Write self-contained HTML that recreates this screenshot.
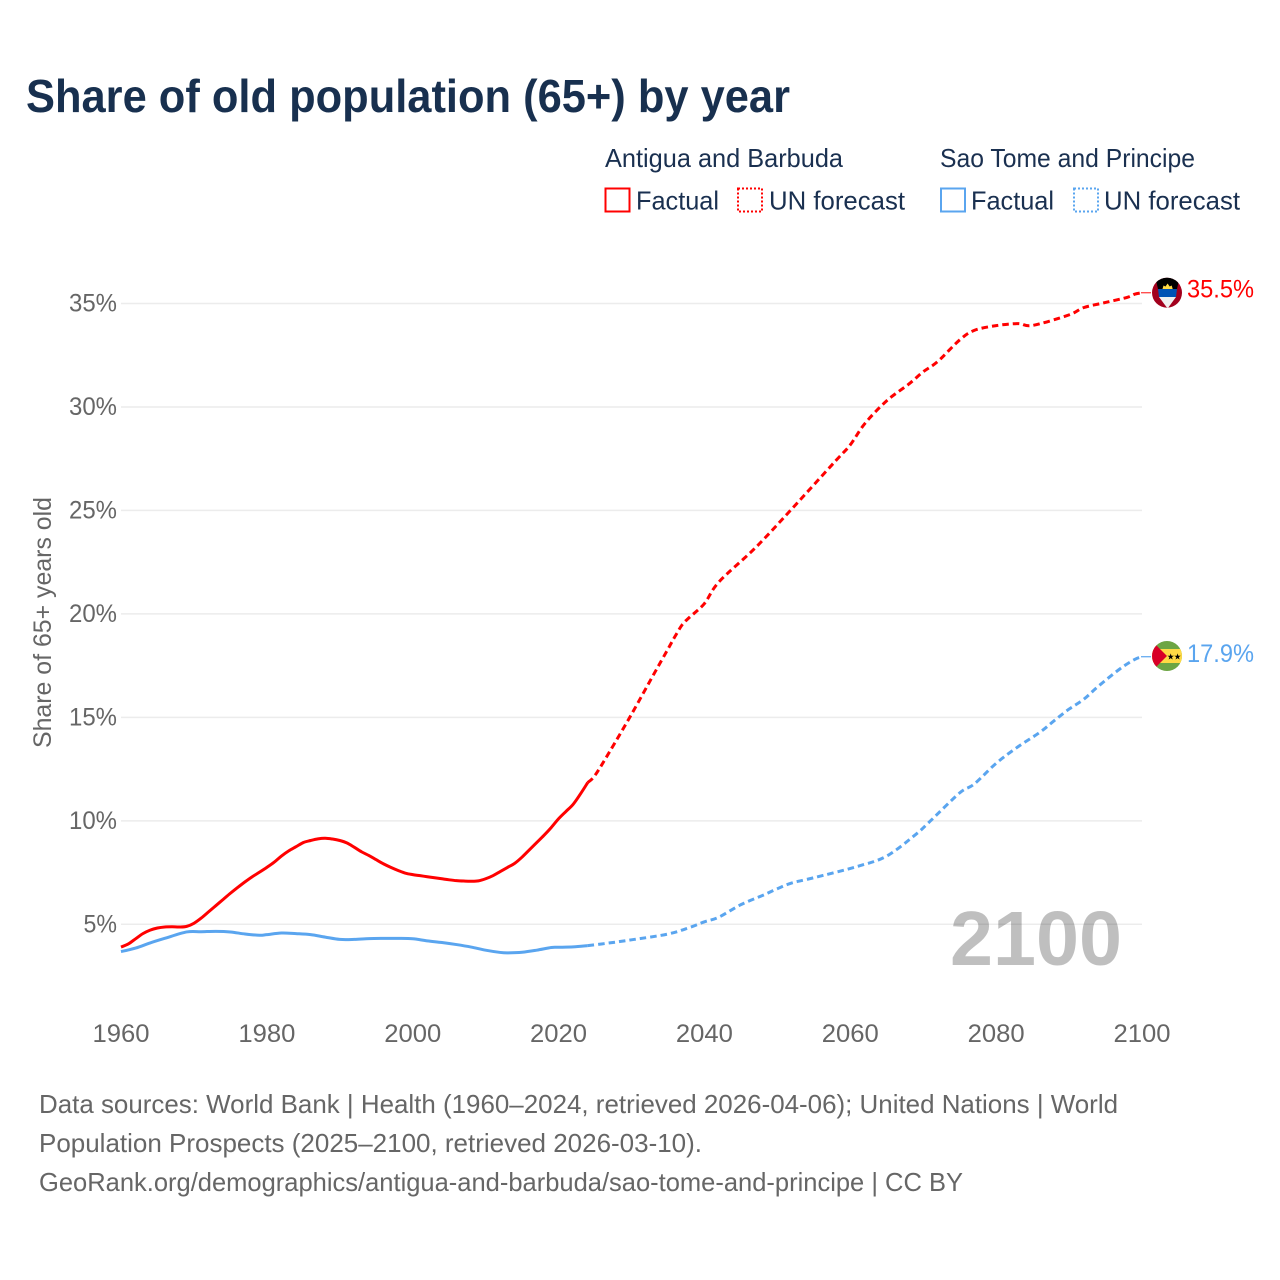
<!DOCTYPE html>
<html lang="en">
<head>
<meta charset="utf-8">
<title>Share of old population (65+) by year</title>
<style>
  html, body { margin: 0; padding: 0; background: #fff; }
  svg { display: block; font-family: "Liberation Sans", sans-serif; }
</style>
</head>
<body>
<svg id="chart" xmlns="http://www.w3.org/2000/svg" width="1280" height="1280" viewBox="0 0 1280 1280">
  <defs>
    <clipPath id="flag-clip-a"><circle cx="1167" cy="292.7" r="15"/></clipPath>
    <clipPath id="flag-clip-s"><circle cx="1167" cy="656" r="15"/></clipPath>
  </defs>
  <rect x="0" y="0" width="1280" height="1280" fill="#ffffff"/>

  <text x="26" y="112" font-size="46" font-weight="700" fill="#18304f" textLength="764" lengthAdjust="spacingAndGlyphs">Share of old population (65+) by year</text>

  <g font-size="26" fill="#1a3050">
    <text x="605" y="167" textLength="238" lengthAdjust="spacingAndGlyphs">Antigua and Barbuda</text>
    <rect x="605.5" y="188.5" width="24" height="23" fill="none" stroke="#ff0000" stroke-width="2"/>
    <text x="636" y="209.5" textLength="83" lengthAdjust="spacingAndGlyphs">Factual</text>
    <rect x="738" y="188.5" width="24" height="23" fill="none" stroke="#ff0000" stroke-width="2" stroke-dasharray="2 2"/>
    <text x="769" y="209.5" textLength="136" lengthAdjust="spacingAndGlyphs">UN forecast</text>

    <text x="940" y="167" textLength="255" lengthAdjust="spacingAndGlyphs">Sao Tome and Principe</text>
    <rect x="941" y="188.5" width="24" height="23" fill="none" stroke="#5aa5ef" stroke-width="2"/>
    <text x="971" y="209.5" textLength="83" lengthAdjust="spacingAndGlyphs">Factual</text>
    <rect x="1074" y="188.5" width="24" height="23" fill="none" stroke="#5aa5ef" stroke-width="2" stroke-dasharray="2 2"/>
    <text x="1104" y="209.5" textLength="136" lengthAdjust="spacingAndGlyphs">UN forecast</text>
  </g>

  <g id="grid"></g>
  <g id="y-ticks"></g>
  <g id="x-ticks"></g>

  <text transform="translate(51 748) rotate(-90)" x="0" y="0" font-size="25" fill="#666666" textLength="251" lengthAdjust="spacingAndGlyphs">Share of 65+ years old</text>

  <text x="950" y="965" font-size="77" font-weight="700" fill="#000000" fill-opacity="0.25" textLength="172" lengthAdjust="spacingAndGlyphs">2100</text>

  <g id="series"></g>

  <g id="flag-antigua" clip-path="url(#flag-clip-a)">
    <rect x="1150" y="276" width="34" height="34" fill="#a2001d"/>
    <polygon points="1155,276 1180,276 1177,289 1158,289" fill="#000000"/>
    <polygon points="1158,289 1177,289 1176,297 1159,297" fill="#0052b4"/>
    <polygon points="1159,297 1176,297 1167.6,308.5" fill="#f0f0f0"/>
    <polygon points="1162.5,289 1163.5,285.5 1165.5,286.5 1167.6,283.5 1169.7,286.5 1171.7,285.5 1172.7,289" fill="#ffda44"/>
  </g>
  <g id="flag-sao-tome" clip-path="url(#flag-clip-s)">
    <rect x="1150" y="640" width="34" height="32" fill="#6da544"/>
    <rect x="1150" y="649" width="34" height="14" fill="#ffda44"/>
    <polygon points="1150,639 1167,656 1150,673" fill="#d80027"/>
    <text x="1170.7" y="659.7" font-size="8.5" text-anchor="middle" fill="#000000" font-family="'DejaVu Sans', sans-serif">★</text>
    <text x="1177.5" y="659.7" font-size="8.5" text-anchor="middle" fill="#000000" font-family="'DejaVu Sans', sans-serif">★</text>
  </g>

  <g font-size="26" fill="#666666">
    <text x="39" y="1113" textLength="1079" lengthAdjust="spacingAndGlyphs">Data sources: World Bank | Health (1960–2024, retrieved 2026-04-06); United Nations | World</text>
    <text x="39" y="1152" textLength="663" lengthAdjust="spacingAndGlyphs">Population Prospects (2025–2100, retrieved 2026-03-10).</text>
    <text x="39" y="1191" textLength="924" lengthAdjust="spacingAndGlyphs">GeoRank.org/demographics/antigua-and-barbuda/sao-tome-and-principe | CC BY</text>
  </g>
</svg>

<script>
// Chart data
const xTickYears = [1960, 1980, 2000, 2020, 2040, 2060, 2080, 2100];
const yTickValues = [5, 10, 15, 20, 25, 30, 35];

const antiguaFactualYears = [1960,1961,1962,1963,1964,1965,1966,1967,1968,1969,1970,1971,1972,1973,1974,1975,1976,1977,1978,1979,1980,1981,1982,1983,1984,1985,1986,1987,1988,1989,1990,1991,1992,1993,1994,1995,1996,1997,1998,1999,2000,2001,2002,2003,2004,2005,2006,2007,2008,2009,2010,2011,2012,2013,2014,2015,2016,2017,2018,2019,2020,2021,2022,2023,2024];
const antiguaFactual = [3.9,4.05,4.3,4.55,4.72,4.82,4.87,4.88,4.87,4.9,5.05,5.3,5.6,5.9,6.2,6.5,6.78,7.05,7.3,7.52,7.75,8.0,8.3,8.55,8.75,8.95,9.05,9.13,9.16,9.12,9.05,8.93,8.72,8.5,8.32,8.12,7.92,7.75,7.6,7.47,7.4,7.35,7.3,7.25,7.2,7.15,7.11,7.09,7.08,7.1,7.2,7.35,7.55,7.75,7.95,8.25,8.6,8.95,9.3,9.68,10.1,10.45,10.8,11.3,11.85];

const antiguaForecastYears = [2024,2025,2027,2030,2033,2035,2036,2037,2038,2040,2042,2047,2052,2058,2060,2062,2065,2068,2070,2072,2075,2077,2080,2083,2085,2090,2092,2095,2098,2099,2100];
const antiguaForecast = [11.85,12.2,13.34,15.15,17.05,18.3,18.93,19.5,19.85,20.5,21.55,23.2,25.08,27.4,28.17,29.2,30.3,31.1,31.7,32.2,33.24,33.7,33.93,34.03,33.94,34.45,34.8,35.05,35.3,35.45,35.52];

const saoTomeFactualYears = [1960,1962,1964,1966,1969,1971,1973,1975,1977,1979,1980,1982,1984,1986,1988,1990,1992,1994,1996,1998,2000,2002,2004,2006,2008,2010,2012,2013,2015,2017,2019,2020,2022,2024];
const saoTomeFactual = [3.68,3.85,4.1,4.32,4.63,4.64,4.66,4.63,4.53,4.47,4.5,4.58,4.55,4.5,4.38,4.27,4.27,4.31,4.32,4.32,4.3,4.2,4.12,4.02,3.9,3.75,3.64,3.62,3.65,3.75,3.88,3.89,3.91,3.97];

const saoTomeForecastYears = [2024,2027,2030,2035,2038,2040,2042,2045,2048,2050,2052,2055,2061,2065,2069,2071,2075,2077,2080,2083,2086,2088,2090,2092,2094,2097,2099,2100];
const saoTomeForecast = [3.97,4.1,4.25,4.53,4.85,5.12,5.35,5.95,6.4,6.72,7.0,7.25,7.8,8.3,9.35,10.0,11.35,11.78,12.78,13.58,14.28,14.85,15.4,15.87,16.5,17.35,17.8,17.93];

const xMin = 1960, xMax = 2100;
const xLeft = 121, xRight = 1142;
const yBase = 5, yTop = 35;
const yBasePx = 924.3, yTopPx = 303.5;

function xScale(year) { return xLeft + (year - xMin) * (xRight - xLeft) / (xMax - xMin); }
function yScale(v) { return yBasePx + (v - yBase) * (yTopPx - yBasePx) / (yTop - yBase); }

const NS = 'http://www.w3.org/2000/svg';
function make(tag, attrs, parent) {
  const el = document.createElementNS(NS, tag);
  for (const k in attrs) el.setAttribute(k, attrs[k]);
  parent.appendChild(el);
  return el;
}

function curvePath(years, values) {
  const pts = years.map((y, i) => [xScale(y), yScale(values[i])]);
  let d = 'M' + pts[0][0].toFixed(2) + ' ' + pts[0][1].toFixed(2);
  for (let i = 0; i < pts.length - 1; i++) {
    const p0 = pts[Math.max(i - 1, 0)], p1 = pts[i], p2 = pts[i + 1], p3 = pts[Math.min(i + 2, pts.length - 1)];
    const c1x = p1[0] + (p2[0] - p0[0]) / 6, c1y = p1[1] + (p2[1] - p0[1]) / 6;
    const c2x = p2[0] - (p3[0] - p1[0]) / 6, c2y = p2[1] - (p3[1] - p1[1]) / 6;
    d += 'C' + c1x.toFixed(2) + ' ' + c1y.toFixed(2) + ' ' + c2x.toFixed(2) + ' ' + c2y.toFixed(2) + ' ' + p2[0].toFixed(2) + ' ' + p2[1].toFixed(2);
  }
  return d;
}

const gridG = document.getElementById('grid');
const yTicksG = document.getElementById('y-ticks');
const xTicksG = document.getElementById('x-ticks');
const seriesG = document.getElementById('series');

yTickValues.forEach(function (v) {
  const line = make('line', { x1: xLeft, x2: xRight, y1: yScale(v), y2: yScale(v), stroke: '#ececec', 'stroke-width': 1.5 }, gridG);
  
  
  const label = String(v) + '%';
  const w = String(v).length * 14.5 + 19;
  const t = make('text', { x: 117 - w, y: yScale(v) + 8, 'font-size': 25, fill: '#666666', textLength: w, lengthAdjust: 'spacingAndGlyphs' }, yTicksG);
  t.textContent = label;
  
  
});

xTickYears.forEach(function (yr) {
  const t = make('text', { x: xScale(yr) - 28.5, y: 1042, 'font-size': 25, fill: '#666666', textLength: 57, lengthAdjust: 'spacingAndGlyphs' }, xTicksG);
  t.textContent = String(yr);
  
  
});

const RED = '#ff0000', BLUE = '#5aa5ef';

const blueFact = make('path', { d: curvePath(saoTomeFactualYears, saoTomeFactual), fill: 'none', stroke: BLUE, 'stroke-width': 3, 'stroke-linejoin': 'round' }, seriesG);



const blueFore = make('path', { d: curvePath(saoTomeForecastYears, saoTomeForecast), fill: 'none', stroke: BLUE, 'stroke-width': 3, 'stroke-dasharray': '6.5 4' }, seriesG);



const redFact = make('path', { d: curvePath(antiguaFactualYears, antiguaFactual), fill: 'none', stroke: RED, 'stroke-width': 3, 'stroke-linejoin': 'round' }, seriesG);



const redFore = make('path', { d: curvePath(antiguaForecastYears, antiguaForecast), fill: 'none', stroke: RED, 'stroke-width': 3, 'stroke-dasharray': '6.5 4' }, seriesG);



// Connectors and end labels, placed from the last data point
const redEnd = antiguaForecast[antiguaForecast.length - 1];
const blueEnd = saoTomeForecast[saoTomeForecast.length - 1];

const redConn = make('line', { x1: xRight - 1, x2: 1151, y1: yScale(redEnd), y2: yScale(redEnd), stroke: RED, 'stroke-width': 1.2, 'stroke-opacity': 0.8 }, seriesG);



const blueConn = make('line', { x1: xRight - 1, x2: 1151, y1: yScale(blueEnd), y2: yScale(blueEnd), stroke: BLUE, 'stroke-width': 1.2 }, seriesG);



const redLabel = make('text', { x: 1187, y: yScale(redEnd) + 5, 'font-size': 25, fill: RED, textLength: 67, lengthAdjust: 'spacingAndGlyphs' }, seriesG);
redLabel.textContent = redEnd.toFixed(1) + '%';



const blueLabel = make('text', { x: 1187, y: yScale(blueEnd) + 5.5, 'font-size': 25, fill: BLUE, textLength: 67, lengthAdjust: 'spacingAndGlyphs' }, seriesG);
blueLabel.textContent = blueEnd.toFixed(1) + '%';


</script>
</body>
</html>
